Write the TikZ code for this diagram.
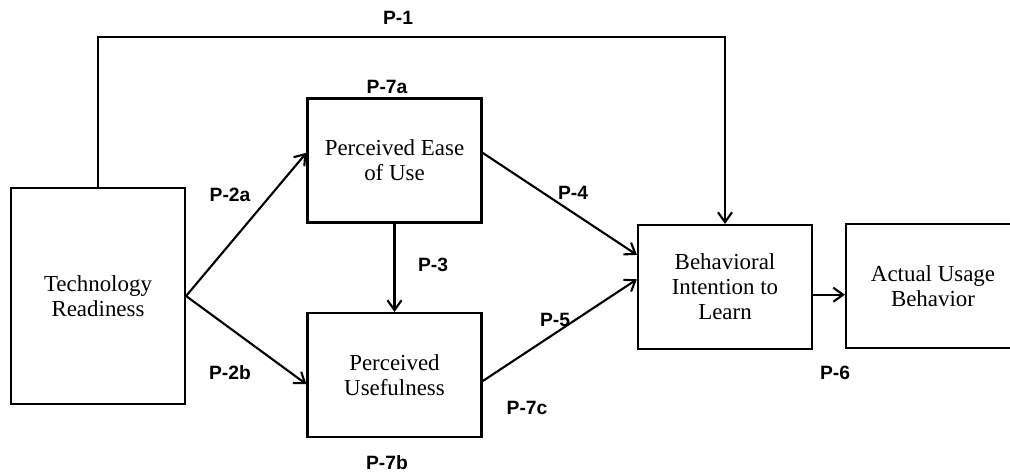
\documentclass[tikz,border=0pt]{standalone}
\usepackage{fontspec}
\setmainfont{Liberation Serif}
\newfontfamily\labelfont{Liberation Sans}
\usetikzlibrary{arrows.meta}

\begin{document}
\begin{tikzpicture}[x=0.025cm, y=-0.025cm, line width=1.5pt,
  box/.style={draw, rectangle, align=center, inner sep=0pt,
    minimum width=4.35cm, minimum height=3.1cm,
    font=\fontsize{16.3}{17.8}\selectfont},
  arr/.style={-{Straight Barb[length=7pt,width=10pt]}},
  plabel/.style={font=\labelfont\bfseries\fontsize{13.7}{15}\selectfont}]
\useasboundingbox (0,0) rectangle (1010,473);
% boxes
\node[box, minimum height=5.4cm] (tr) at (98,296) {Technology\\Readiness};
\node[box] (peu) at (394.5,160.5) {Perceived Ease\\of Use};
\node[box] (pu) at (394.5,375) {Perceived\\Usefulness};
\node[box] (bi) at (725,287) {Behavioral\\Intention to\\Learn};
\node[box] (abu) at (933,286) {Actual Usage\\Behavior};
% paths
\draw[arr] (tr.north) -- ++(0,-150) -| (bi.north);
\draw[arr] (tr.east) -- (peu.175);
\draw[arr] (tr.east) -- (pu.186);
\draw[arr] (peu.south) -- (pu.north);
\draw[arr] (peu.5) -- (bi.160);
\draw[arr] (pu.-4) -- (bi.175);
\draw[arr] (bi.-5) -- (bi.-5 -| abu.west);
% labels
\node[plabel] (p1) at (398,18) {P-1};
\node[plabel] (p7a) at (387,87) {P-7a};
\node[plabel] (p2a) at (230,195) {P-2a};
\node[plabel] (p4) at (573,193) {P-4};
\node[plabel] (p3) at (433,265) {P-3};
\node[plabel] (p5) at (555,320) {P-5};
\node[plabel] (p2b) at (230,373) {P-2b};
\node[plabel] (p6) at (835,373) {P-6};
\node[plabel] (p7c) at (527,408) {P-7c};
\node[plabel] (p7b) at (387,463) {P-7b};
\end{tikzpicture}
\end{document}
